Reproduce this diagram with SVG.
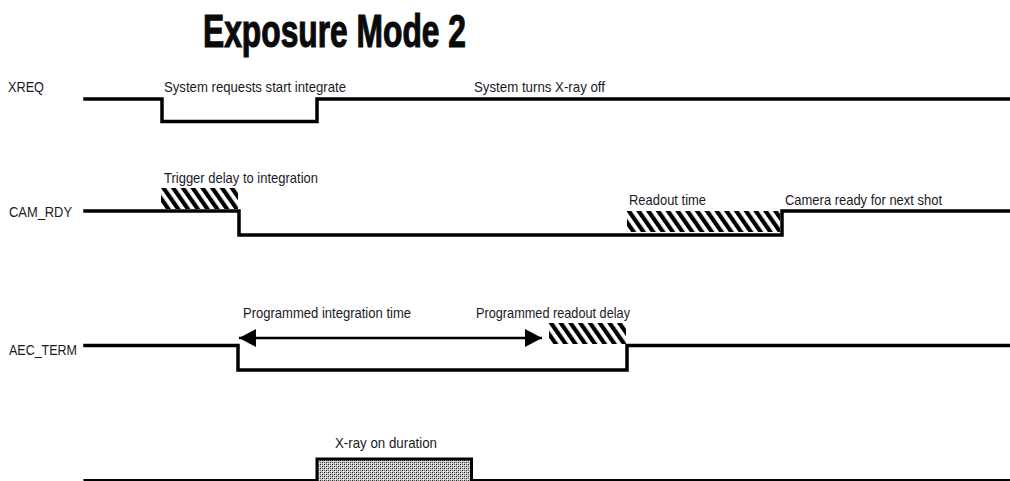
<svg xmlns="http://www.w3.org/2000/svg" width="1010" height="481" viewBox="0 0 1010 481">
  <style>
    .lbl { font-family: "Liberation Sans", Arial, sans-serif; font-size: 14.5px; fill: #1a1a24; }
    .title { font-family: "Liberation Sans", Arial, sans-serif; font-weight: bold; font-size: 47px; fill: #0a0a0a; stroke: #0a0a0a; stroke-width: 1.2; }
    .sig { fill: none; stroke: #000; stroke-width: 3.5; stroke-linejoin: miter; stroke-linecap: square; }
    .arr { stroke: #000; stroke-width: 2.5; fill: none; }
  </style>
  <defs>
    <pattern id="hatch" width="8" height="8" patternUnits="userSpaceOnUse" patternTransform="rotate(-35)">
      <rect width="8" height="8" fill="#fff"/>
      <rect width="4.2" height="8" fill="#000"/>
    </pattern>
    <pattern id="dots" width="4" height="4" patternUnits="userSpaceOnUse">
      <rect width="4" height="4" fill="#c8c8c8"/>
      <rect x="0" y="0" width="1" height="1" fill="#222"/>
      <rect x="2" y="2" width="1" height="1" fill="#222"/>
      <rect x="0" y="2" width="1" height="1" fill="#666"/>
      <rect x="2" y="0" width="1" height="1" fill="#666"/>
      <rect x="1" y="1" width="1" height="1" fill="#fff"/>
      <rect x="3" y="3" width="1" height="1" fill="#fff"/>
    </pattern>
    <marker id="ah" viewBox="0 0 17 18" refX="17" refY="9" markerWidth="17" markerHeight="18" markerUnits="userSpaceOnUse" orient="auto-start-reverse">
      <path d="M0,0 L17,9 L0,18 Z" fill="#000"/>
    </marker>
  </defs>

  <text class="title" x="203" y="47" textLength="263" lengthAdjust="spacingAndGlyphs">Exposure Mode 2</text>

  <g id="xreq">
    <text class="lbl" x="8" y="92" textLength="36" lengthAdjust="spacingAndGlyphs">XREQ</text>
    <text class="lbl" x="164" y="92" textLength="182" lengthAdjust="spacingAndGlyphs">System requests start integrate</text>
    <text class="lbl" x="474" y="92" textLength="131" lengthAdjust="spacingAndGlyphs">System turns X-ray off</text>
  </g>

  <g id="cam_rdy">
    <text class="lbl" x="9" y="217" textLength="63" lengthAdjust="spacingAndGlyphs">CAM_RDY</text>
    <text class="lbl" x="164" y="183" textLength="154" lengthAdjust="spacingAndGlyphs">Trigger delay to integration</text>
    <rect x="161" y="188" width="77" height="21" fill="url(#hatch)"/>
    <text class="lbl" x="629" y="205" textLength="77" lengthAdjust="spacingAndGlyphs">Readout time</text>
    <rect x="627" y="211" width="153" height="21" fill="url(#hatch)"/>
    <text class="lbl" x="785" y="205" textLength="157" lengthAdjust="spacingAndGlyphs">Camera ready for next shot</text>
  </g>

  <g id="aec_term">
    <text class="lbl" x="9" y="355" textLength="68" lengthAdjust="spacingAndGlyphs">AEC_TERM</text>
    <text class="lbl" x="243" y="318" textLength="168" lengthAdjust="spacingAndGlyphs">Programmed integration time</text>
    <text class="lbl" x="476" y="318" textLength="154" lengthAdjust="spacingAndGlyphs">Programmed readout delay</text>
    <rect x="549" y="323" width="77" height="21" fill="url(#hatch)"/>
  </g>

  <g id="xray">
    <text class="lbl" x="335" y="448" textLength="102" lengthAdjust="spacingAndGlyphs">X-ray on duration</text>
    <rect x="317" y="459" width="154" height="22" fill="url(#dots)"/>
  </g>

  <g id="connectors">
    <polyline class="sig" points="85,99 162,99 162,121.5 317,121.5 317,99 1010,99"/>
    <polyline class="sig" points="85,211 239,211 239,235 782,235 782,211 1010,211"/>
    <polyline class="sig" points="85,345.5 238,345.5 238,370 627,370 627,345.5 1010,345.5"/>
    <polyline class="sig" points="85,480.5 317,480.5 317,459 471.5,459 471.5,480.5 1010,480.5" style="stroke-width:3"/>
    <line class="arr" x1="239" y1="338" x2="542" y2="338" marker-start="url(#ah)" marker-end="url(#ah)"/>
  </g>
</svg>
